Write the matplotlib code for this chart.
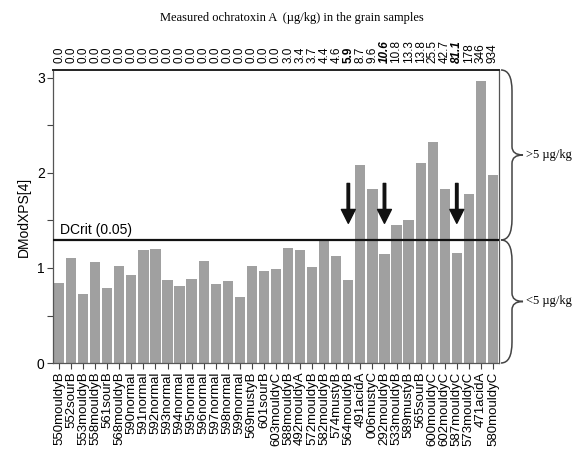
import matplotlib
matplotlib.use('Agg')
import matplotlib.pyplot as plt
import numpy as np
from matplotlib.path import Path
from matplotlib.patches import PathPatch
from matplotlib.transforms import blended_transform_factory

# samples, DModXPS[4] values and measured OTA (ug/kg)
samples = ['550mouldyB', '552sourB', '553mouldyB', '558mouldyB', '561sourB',
           '568mouldyB', '590normal', '591normal', '592normal', '593normal',
           '594normal', '595normal', '596normal', '597normal', '598normal',
           '599normal', '569mustyB', '601sourB', '603mouldyC', '588mouldyB',
           '492mouldyA', '572mouldyB', '582mouldyB', '574mustyB', '564mouldyB',
           '491acidA', '006mustyC', '292mouldyB', '533mouldyB', '589mustyB',
           '565sourB', '600mouldyC', '602mouldyC', '587mouldyC', '573mouldyC',
           '471acidA', '580mouldyC']
dmodx = [0.84, 1.10, 0.73, 1.06, 0.79, 1.02, 0.93, 1.19, 1.20, 0.87,
         0.81, 0.88, 1.07, 0.83, 0.86, 0.69, 1.02, 0.97, 0.99, 1.21,
         1.19, 1.01, 1.29, 1.13, 0.87, 2.08, 1.83, 1.15, 1.45, 1.51,
         2.10, 2.33, 1.83, 1.16, 1.78, 2.97, 1.98]
ota = ['0.0'] * 19 + ['3.0', '3.4', '3.7', '4.4', '4.6', '5.9', '8.7', '9.6',
                      '10.6', '10.8', '13.3', '13.8', '25.5', '42.7', '81.1',
                      '178', '346', '934']
dcrit = 1.295
flagged = ['564mouldyB', '292mouldyB', '587mouldyC']

sans = ['Liberation Sans', 'DejaVu Sans']
serif = ['Liberation Serif', 'DejaVu Serif']
plt.rcParams['font.family'] = sans

fig = plt.figure(figsize=(5.83, 4.58), dpi=100)
ax = fig.add_axes([0.0909, 0.2074, 0.7650, 0.6398])

x = np.arange(len(samples))
ax.bar(x, dmodx, width=0.85, color='#a0a0a0', edgecolor='none', zorder=2)
ax.set_xlim(-0.5, len(samples) - 0.5)
ax.set_ylim(0, 3.084)

ax.set_xticks(x)
ax.set_xticklabels(samples, rotation=90, fontsize=9.5)
ax.set_yticks([0, 1, 2, 3])
ax.set_yticks([0.5, 1.5, 2.5], minor=True)
ax.tick_params(axis='both', direction='out', length=4, width=0.8, color='#444444',
               labelsize=10, pad=2)
ax.tick_params(axis='x', labelsize=9.5)
ax.tick_params(axis='y', which='minor', length=4, width=0.8, color='#444444')
ax.set_ylabel('DModXPS[4]', fontsize=10)
ax.yaxis.set_label_coords(-0.05, 0.5)

for s in ['left', 'bottom', 'right']:
    ax.spines[s].set_color('#555555')
    ax.spines[s].set_linewidth(0.9)
ax.spines['top'].set_color('#222222')
ax.spines['top'].set_linewidth(1.4)

# critical distance
ax.axhline(dcrit, color='#111111', lw=1.6, zorder=3)
ax.text(0.05, dcrit + 0.03, 'DCrit (0.05)', fontsize=10, ha='left', va='bottom')

# arrows over samples below DCrit despite OTA > 5
for name in flagged:
    i = samples.index(name)
    ax.annotate('', xy=(i, 1.47), xytext=(i, 1.89),
                arrowprops=dict(facecolor='#111111', edgecolor='#111111',
                                width=1.8, headwidth=10, headlength=10, shrink=0))

# OTA values on the top axis
top = ax.twiny()
top.set_xlim(ax.get_xlim())
top.set_xticks(x)
top.set_xticklabels(ota, rotation=90, fontsize=8.5)
top.tick_params(axis='x', length=0, pad=5)
for lab in top.get_xticklabels():
    if lab.get_text() == '5.9':
        lab.set_fontweight('bold')
    elif lab.get_text() in ('10.6', '81.1'):
        lab.set_fontweight('bold')
        lab.set_fontstyle('italic')
for s in top.spines.values():
    s.set_visible(False)

fig.text(0.5, 1 - 18 / 458, 'Measured ochratoxin A  (\u00b5g/kg) in the grain samples',
         family=serif, fontsize=9, ha='center', va='center')


def brace(y_top, y_bot, label):
    trans = blended_transform_factory(fig.transFigure, ax.transData)
    x0, xm, xt = 501 / 583, 512 / 583, 523 / 583
    r = 0.22
    ym = (y_top + y_bot) / 2
    verts = [(x0, y_top), (xm, y_top), (xm, y_top - r),
             (xm, ym + r * 0.4), (xm, ym), (xt, ym),
             (xm, ym), (xm, ym - r * 0.4),
             (xm, y_bot + r), (xm, y_bot), (x0, y_bot)]
    codes = [Path.MOVETO, Path.CURVE3, Path.CURVE3,
             Path.LINETO, Path.CURVE3, Path.CURVE3,
             Path.CURVE3, Path.CURVE3,
             Path.LINETO, Path.CURVE3, Path.CURVE3]
    patch = PathPatch(Path(verts, codes), transform=trans, facecolor='none',
                      edgecolor='#444444', lw=1.1, clip_on=False)
    fig.add_artist(patch)
    fig.text(526 / 583, ym, label, transform=trans, family=serif, fontsize=9,
             ha='left', va='center')


brace(3.084, dcrit, '>5 \u00b5g/kg')
brace(dcrit, 0.0, '<5 \u00b5g/kg')

fig.savefig('out.png', dpi=100)
